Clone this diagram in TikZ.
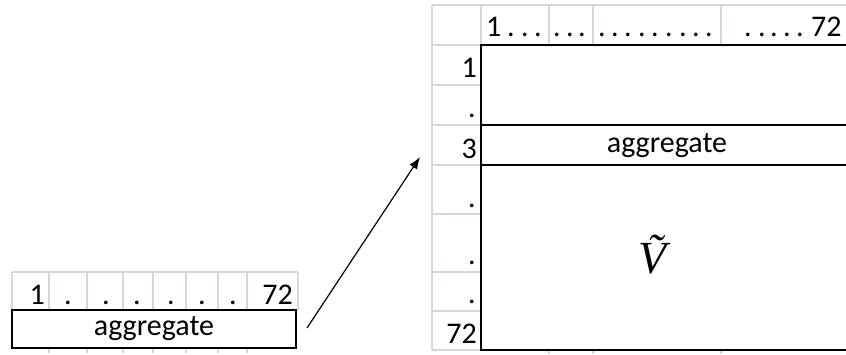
\documentclass[tikz,border=0pt]{standalone}
\usepackage{fontspec}
\usetikzlibrary{arrows.meta}
\setmainfont{Carlito}
\newfontfamily\tnr{Liberation Serif}
\definecolor{gridc}{HTML}{D0D7E5}
\begin{document}
\begin{tikzpicture}[x=1pt,y=-1pt,
  gridl/.style={draw=gridc, line width=1.5pt},
  box/.style={draw=black, line width=2.2pt},
  txt/.style={font=\fontsize{30}{34}\selectfont, inner sep=0pt},
  num/.style={txt, anchor=base east},
  dotl/.style={txt, anchor=base}]
\useasboundingbox (0,0) rectangle (846,354);
\clip (0,0) rectangle (846,354);
% ---------- left grid ----------
\foreach \x in {12,49,87,123,153,186,218,247,298}
  \draw[gridl] (\x,272) -- (\x,310);
\foreach \x in {49,87,123,153,186,218,247}
  \draw[gridl] (\x,348) -- (\x,353);
\draw[gridl] (12,272) -- (298,272);
\node[num] (l1) at (45,304) {1};
\foreach \x/\n in {68/a,106/b,137/c,171/d,202/e,233/f}
  \node[dotl] (ld\n) at (\x,304) {.};
\node[num] (l72) at (293,304) {72};
\node[box, minimum width=284pt, minimum height=38pt, inner sep=0pt, txt] (agg1) at (154,329) {aggregate};
% ---------- right grid ----------
\draw[gridl] (432,5) -- (432,350);
\foreach \x in {481,549,593,721}
  \draw[gridl] (\x,5) -- (\x,45);
\foreach \x in {549,593,721}
  \draw[gridl] (\x,350) -- (\x,354);
\draw[gridl] (432,5) -- (846,5);
\foreach \y in {45,85,125,165,214,272,311,350}
  \draw[gridl] (432,\y) -- (481,\y);
% header texts
\node[txt, anchor=base west] (h1) at (486,36) {1};
\foreach \x [count=\i] in {511,525,538,557,570,582,602,615,628,642,655,669,683,696,709,748,762,774,787,800}
  \node[dotl] (hd\i) at (\x,36) {.};
\node[txt, anchor=base west] (h72) at (811,36) {72};
% row labels
\node[num] (r1) at (477,77) {1};
\node[dotl] (r2) at (472,117) {.};
\node[num] (r3) at (477,158) {3};
\node[dotl] (r4) at (472,207) {.};
\node[dotl] (r5) at (472,264) {.};
\node[dotl] (r6) at (472,303) {.};
\node[num] (r7) at (477,343) {72};
% matrix box
\draw[box] (481,45) rectangle (860,350);
\draw[box] (481,125) -- (860,125);
\draw[box] (481,165) -- (860,165);
\node[txt] (agg2) at (667,146) {aggregate};
\node[font={\tnr\itshape\fontsize{46}{50}\selectfont}, inner sep=0pt, anchor=base] (V) at (653,273) {\~{V}};
% arrow
\coordinate (as) at (307,328);
\coordinate (ae) at (420,157);
\draw[line width=1.2pt, -{Latex[length=12pt,width=9pt]}] (as) -- (ae);
\end{tikzpicture}
\end{document}
